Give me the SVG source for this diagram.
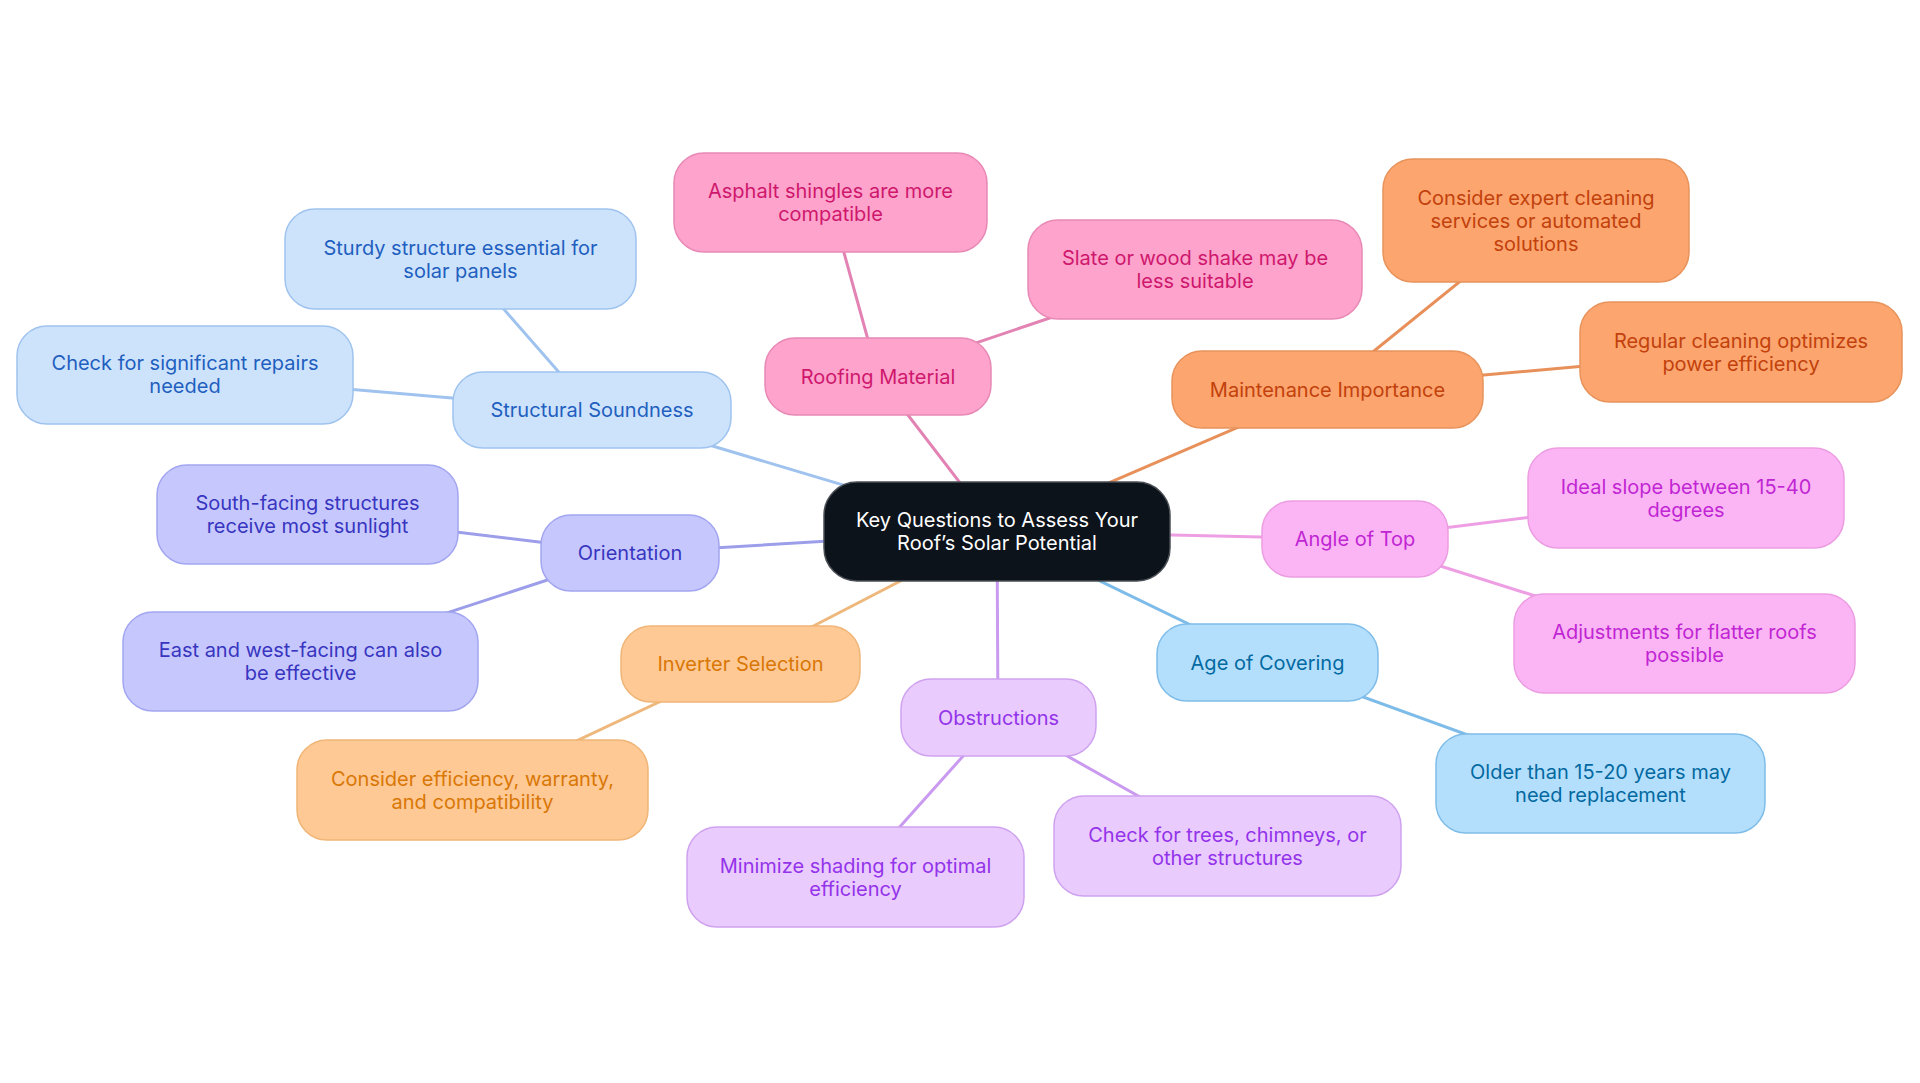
<svg xmlns="http://www.w3.org/2000/svg" width="1920" height="1083" viewBox="0 0 1920 1083">
<style>
text{font-family:Inter,"Noto Sans","Liberation Sans",sans-serif;font-size:20px;text-anchor:middle}
.n rect{stroke-width:1.5}
.edges line{stroke-width:3;stroke-linecap:round}
.root rect{fill:#0d131b;stroke:#4a4f56}
.root text{fill:#ffffff}
.blue rect{fill:#cde3fc;stroke:#9fc3ee}
.blue text{fill:#1f5fbf}
.pink rect{fill:#fda3cc;stroke:#e889b5}
.pink text{fill:#cf176c}
.orange rect{fill:#fca56e;stroke:#e8935c}
.orange text{fill:#c2410c}
.mag rect{fill:#fcb5f4;stroke:#eb9de2}
.mag text{fill:#c026d3}
.sky rect{fill:#b3dffd;stroke:#7fbde8}
.sky text{fill:#0369a1}
.purple rect{fill:#eacbfd;stroke:#cfa2ef}
.purple text{fill:#9333ea}
.amber rect{fill:#fec994;stroke:#f0b577}
.amber text{fill:#d97706}
.indigo rect{fill:#c6c8fd;stroke:#a2a5f0}
.indigo text{fill:#3835c0}
</style>
<rect width="1920" height="1083" fill="#ffffff"/>
<g class="edges" id="connectors">
<line x1="997" y1="531" x2="592" y2="410" stroke="#9fc3ee"/>
<line x1="592" y1="410" x2="460" y2="259" stroke="#9fc3ee"/>
<line x1="592" y1="410" x2="185" y2="375" stroke="#9fc3ee"/>
<line x1="997" y1="531" x2="878" y2="376" stroke="#e283b4"/>
<line x1="878" y1="376" x2="830" y2="202" stroke="#e283b4"/>
<line x1="878" y1="376" x2="1195" y2="269" stroke="#e283b4"/>
<line x1="997" y1="531" x2="1327" y2="389" stroke="#e8905a"/>
<line x1="1327" y1="389" x2="1536" y2="220" stroke="#e8905a"/>
<line x1="1327" y1="389" x2="1741" y2="352" stroke="#e8905a"/>
<line x1="997" y1="531" x2="1355" y2="539" stroke="#ee9fe4"/>
<line x1="1355" y1="539" x2="1686" y2="498" stroke="#ee9fe4"/>
<line x1="1355" y1="539" x2="1684" y2="643" stroke="#ee9fe4"/>
<line x1="997" y1="531" x2="1267" y2="662" stroke="#7dbbe8"/>
<line x1="1267" y1="662" x2="1600" y2="783" stroke="#7dbbe8"/>
<line x1="997" y1="531" x2="998" y2="717" stroke="#c99aef"/>
<line x1="998" y1="717" x2="1227" y2="846" stroke="#c99aef"/>
<line x1="998" y1="717" x2="855" y2="877" stroke="#c99aef"/>
<line x1="997" y1="531" x2="740" y2="664" stroke="#eeb87c"/>
<line x1="740" y1="664" x2="472" y2="790" stroke="#eeb87c"/>
<line x1="997" y1="531" x2="630" y2="553" stroke="#9c9eea"/>
<line x1="630" y1="553" x2="307" y2="514" stroke="#9c9eea"/>
<line x1="630" y1="553" x2="300" y2="661" stroke="#9c9eea"/>
</g>
<g id="root" class="n root"><rect x="824" y="482" width="346" height="99" rx="33"/><text x="997" y="527">Key Questions to Assess Your</text><text x="997" y="550">Roof’s Solar Potential</text></g>
<g id="structural" class="n blue"><rect x="453" y="372" width="278" height="76" rx="30"/><text x="592" y="417">Structural Soundness</text></g>
<g id="sturdy" class="n blue"><rect x="285" y="209" width="351" height="100" rx="30"/><text x="460.5" y="254.5">Sturdy structure essential for</text><text x="460.5" y="277.5">solar panels</text></g>
<g id="repairs" class="n blue"><rect x="17" y="326" width="336" height="98" rx="30"/><text x="185" y="370">Check for significant repairs</text><text x="185" y="393">needed</text></g>
<g id="roofing" class="n pink"><rect x="765" y="338" width="226" height="77" rx="30"/><text x="878" y="383.5">Roofing Material</text></g>
<g id="asphalt" class="n pink"><rect x="674" y="153" width="313" height="99" rx="30"/><text x="830.5" y="198">Asphalt shingles are more</text><text x="830.5" y="221">compatible</text></g>
<g id="slate" class="n pink"><rect x="1028" y="220" width="334" height="99" rx="30"/><text x="1195" y="265">Slate or wood shake may be</text><text x="1195" y="288">less suitable</text></g>
<g id="maintenance" class="n orange"><rect x="1172" y="351" width="311" height="77" rx="30"/><text x="1327.5" y="396.5">Maintenance Importance</text></g>
<g id="expert" class="n orange"><rect x="1383" y="159" width="306" height="123" rx="30"/><text x="1536" y="204.5">Consider expert cleaning</text><text x="1536" y="227.5">services or automated</text><text x="1536" y="250.5">solutions</text></g>
<g id="regular" class="n orange"><rect x="1580" y="302" width="322" height="100" rx="30"/><text x="1741" y="347.5">Regular cleaning optimizes</text><text x="1741" y="370.5">power efficiency</text></g>
<g id="angle" class="n mag"><rect x="1262" y="501" width="186" height="76" rx="30"/><text x="1355" y="546">Angle of Top</text></g>
<g id="ideal" class="n mag"><rect x="1528" y="448" width="316" height="100" rx="30"/><text x="1686" y="493.5">Ideal slope between 15-40</text><text x="1686" y="516.5">degrees</text></g>
<g id="adjust" class="n mag"><rect x="1514" y="594" width="341" height="99" rx="30"/><text x="1684.5" y="639">Adjustments for flatter roofs</text><text x="1684.5" y="662">possible</text></g>
<g id="age" class="n sky"><rect x="1157" y="624" width="221" height="77" rx="30"/><text x="1267.5" y="669.5">Age of Covering</text></g>
<g id="older" class="n sky"><rect x="1436" y="734" width="329" height="99" rx="30"/><text x="1600.5" y="779">Older than 15-20 years may</text><text x="1600.5" y="802">need replacement</text></g>
<g id="obstructions" class="n purple"><rect x="901" y="679" width="195" height="77" rx="30"/><text x="998.5" y="724.5">Obstructions</text></g>
<g id="trees" class="n purple"><rect x="1054" y="796" width="347" height="100" rx="30"/><text x="1227.5" y="841.5">Check for trees, chimneys, or</text><text x="1227.5" y="864.5">other structures</text></g>
<g id="shading" class="n purple"><rect x="687" y="827" width="337" height="100" rx="30"/><text x="855.5" y="872.5">Minimize shading for optimal</text><text x="855.5" y="895.5">efficiency</text></g>
<g id="inverter" class="n amber"><rect x="621" y="626" width="239" height="76" rx="30"/><text x="740.5" y="671">Inverter Selection</text></g>
<g id="efficiency" class="n amber"><rect x="297" y="740" width="351" height="100" rx="30"/><text x="472.5" y="785.5">Consider efficiency, warranty,</text><text x="472.5" y="808.5">and compatibility</text></g>
<g id="orientation" class="n indigo"><rect x="541" y="515" width="178" height="76" rx="30"/><text x="630" y="560">Orientation</text></g>
<g id="south" class="n indigo"><rect x="157" y="465" width="301" height="99" rx="30"/><text x="307.5" y="510">South-facing structures</text><text x="307.5" y="533">receive most sunlight</text></g>
<g id="east" class="n indigo"><rect x="123" y="612" width="355" height="99" rx="30"/><text x="300.5" y="657">East and west-facing can also</text><text x="300.5" y="680">be effective</text></g>
</svg>
